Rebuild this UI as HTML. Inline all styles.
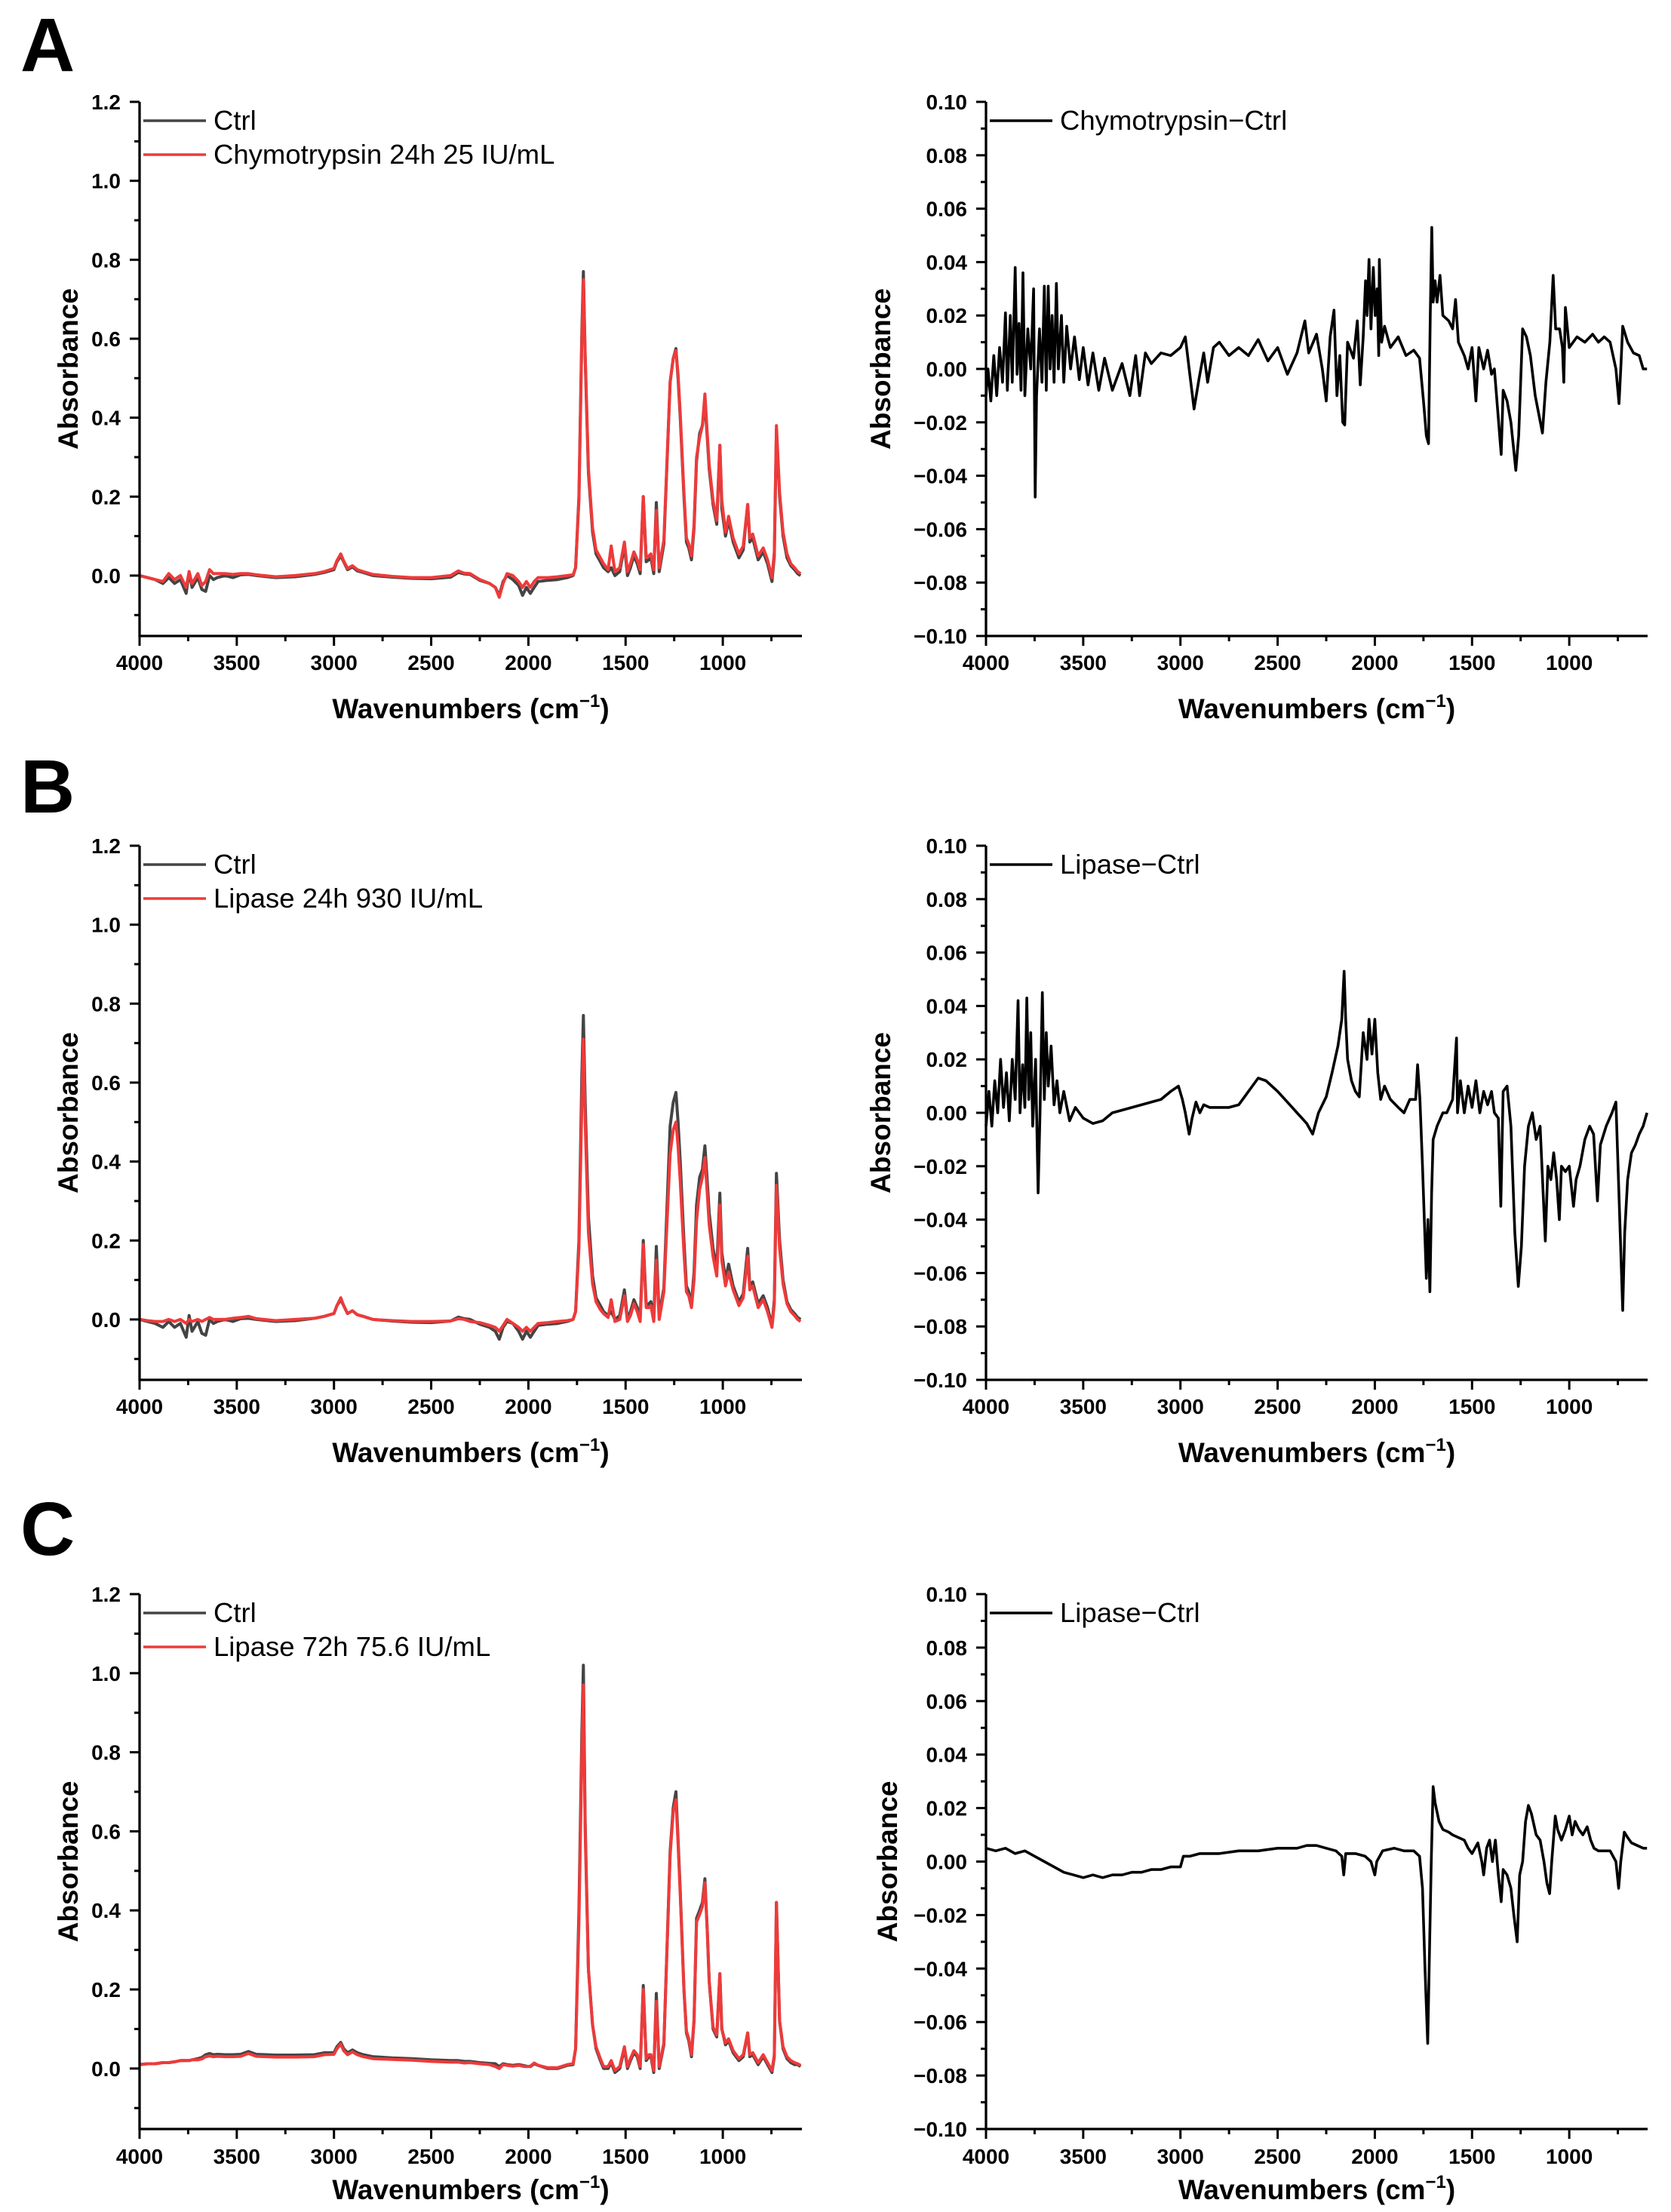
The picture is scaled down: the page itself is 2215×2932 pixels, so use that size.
<!DOCTYPE html>
<html>
<head>
<meta charset="utf-8">
<style>
  html, body { margin:0; padding:0; background:#fff; }
  svg { display:block; }
  text { font-family: "Liberation Sans", Arial, sans-serif; }
</style>
</head>
<body>
<svg id="fig" xmlns="http://www.w3.org/2000/svg" width="2215" height="2932" viewBox="0 0 2215 2932">
  <rect x="0" y="0" width="2215" height="2932" fill="#fff"/>
</svg>
<script>
// ---------- data: left panels (absorbance spectra) ----------
const wnL = [
 4000,3960,3920,3880,3850,3820,3790,3760,3745,3730,
 3700,3680,3660,3640,3620,3600,3560,3520,3480,3440,
 3400,3300,3200,3100,3050,3000,2985,2965,2950,2930,
 2905,2880,2850,2800,2700,2600,2500,2400,2360,2330,
 2300,2250,2200,2170,2150,2130,2110,2080,2050,2030,
 2010,1990,1970,1950,1900,1850,1800,1770,1757,1740,
 1725,1717,1708,1691,1670,1652,1630,1613,1590,1574,
 1555,1530,1506,1490,1475,1457,1440,1425,1409,1394,
 1380,1370,1355,1342,1327,1303,1271,1255,1241,1230,
 1219,1200,1187,1175,1161,1148,1135,1119,1105,1092,
 1080,1070,1050,1031,1015,1005,986,970,947,917,
 895,872,861,846,818,792,770,747,735,724,
 708,690,670,650,631,615,600];

const ctrlA = [
 0,-0.005,-0.01,-0.02,-0.005,-0.02,-0.01,-0.045,0.01,-0.03,
 -0.005,-0.035,-0.04,0.0,-0.01,-0.005,0,-0.005,0.002,0.003,
 0,-0.005,-0.003,0.003,0.008,0.015,0.035,0.05,0.035,0.015,
 0.022,0.012,0.008,0.0,-0.004,-0.007,-0.008,-0.004,0.008,0.004,
 0.003,-0.012,-0.02,-0.03,-0.05,-0.015,0.0,-0.01,-0.025,-0.05,
 -0.03,-0.045,-0.03,-0.015,-0.012,-0.01,-0.005,0.0,0.02,0.2,
 0.62,0.77,0.55,0.26,0.11,0.055,0.035,0.02,0.01,0.02,
 0.0,0.01,0.075,0.0,0.02,0.05,0.03,0.005,0.2,0.035,
 0.04,0.045,0.005,0.185,0.01,0.08,0.49,0.55,0.575,0.5,
 0.4,0.2,0.085,0.07,0.04,0.12,0.29,0.36,0.38,0.44,
 0.35,0.27,0.18,0.13,0.33,0.17,0.1,0.14,0.085,0.045,
 0.065,0.18,0.085,0.095,0.04,0.06,0.03,-0.015,0.05,0.37,
 0.2,0.1,0.045,0.025,0.015,0.005,0.0];

const chymoA = [
 0,-0.005,-0.01,-0.015,0.005,-0.01,0.0,-0.03,0.01,-0.02,
 0.005,-0.025,-0.015,0.015,0.005,0.005,0.005,0.003,0.005,0.005,
 0.002,-0.003,0,0.005,0.01,0.018,0.038,0.055,0.037,0.018,
 0.025,0.015,0.01,0.003,-0.002,-0.005,-0.005,0.0,0.012,0.006,
 0.005,-0.01,-0.02,-0.03,-0.055,-0.02,0.005,0.0,-0.015,-0.03,
 -0.015,-0.03,-0.015,-0.005,-0.005,-0.003,0.0,0.002,0.02,0.19,
 0.6,0.75,0.56,0.27,0.12,0.065,0.045,0.03,0.015,0.075,
 0.01,0.02,0.085,0.01,0.03,0.06,0.04,0.015,0.2,0.045,
 0.05,0.055,0.015,0.165,0.02,0.09,0.49,0.55,0.57,0.51,
 0.41,0.21,0.095,0.08,0.05,0.13,0.3,0.35,0.38,0.46,
 0.36,0.28,0.19,0.14,0.33,0.19,0.11,0.15,0.095,0.055,
 0.075,0.18,0.095,0.105,0.05,0.07,0.04,-0.005,0.06,0.38,
 0.21,0.11,0.055,0.03,0.02,0.01,0.005];

const ctrlB = [
 0,-0.005,-0.01,-0.02,-0.005,-0.02,-0.01,-0.045,0.01,-0.03,
 -0.005,-0.035,-0.04,0.0,-0.01,-0.005,0,-0.005,0.002,0.003,
 0,-0.005,-0.003,0.003,0.008,0.015,0.035,0.05,0.035,0.015,
 0.022,0.012,0.008,0.0,-0.004,-0.007,-0.008,-0.004,0.006,0.002,
 0.0,-0.012,-0.02,-0.03,-0.05,-0.02,-0.005,-0.01,-0.03,-0.05,
 -0.03,-0.045,-0.03,-0.015,-0.012,-0.01,-0.005,0.0,0.02,0.2,
 0.62,0.77,0.55,0.26,0.11,0.055,0.035,0.02,0.01,0.02,
 0.0,0.01,0.075,0.0,0.02,0.05,0.03,0.005,0.2,0.035,
 0.04,0.045,0.005,0.185,0.01,0.08,0.49,0.55,0.575,0.5,
 0.4,0.2,0.085,0.07,0.04,0.12,0.29,0.36,0.38,0.44,
 0.35,0.27,0.18,0.13,0.32,0.17,0.1,0.14,0.085,0.045,
 0.065,0.18,0.085,0.095,0.04,0.06,0.03,-0.015,0.05,0.37,
 0.2,0.1,0.045,0.025,0.015,0.005,0.0];

const lipaseB = [
 0,-0.003,-0.005,-0.005,0.0,-0.005,0.0,-0.01,0.0,-0.005,
 0.0,-0.005,0.0,0.005,0.0,0.0,0.0,0.003,0.005,0.008,
 0.002,-0.003,0.0,0.003,0.008,0.015,0.035,0.055,0.035,0.015,
 0.022,0.012,0.008,0.0,-0.003,-0.005,-0.005,-0.004,0.002,0.0,
 -0.005,-0.008,-0.015,-0.02,-0.03,-0.015,0.0,-0.01,-0.02,-0.03,
 -0.02,-0.03,-0.02,-0.01,-0.008,-0.005,-0.003,0.0,0.02,0.18,
 0.55,0.71,0.5,0.22,0.09,0.045,0.025,0.015,0.005,0.05,
 -0.005,0.0,0.06,-0.005,0.01,0.04,0.02,-0.005,0.19,0.03,
 0.03,0.035,-0.005,0.15,0.0,0.07,0.42,0.48,0.5,0.44,
 0.35,0.17,0.07,0.06,0.03,0.1,0.25,0.33,0.36,0.41,
 0.32,0.24,0.16,0.11,0.29,0.15,0.085,0.12,0.075,0.035,
 0.055,0.16,0.075,0.085,0.03,0.05,0.02,-0.02,0.04,0.34,
 0.18,0.09,0.04,0.02,0.01,0.0,-0.005];

const ctrlC = [
 0.01,0.012,0.012,0.015,0.015,0.017,0.02,0.02,0.02,0.022,
 0.025,0.028,0.035,0.038,0.035,0.036,0.035,0.035,0.036,0.043,
 0.036,0.034,0.034,0.035,0.04,0.04,0.055,0.066,0.05,0.04,
 0.047,0.04,0.035,0.03,0.027,0.025,0.022,0.02,0.02,0.018,
 0.018,0.015,0.013,0.012,0.005,0.012,0.01,0.008,0.01,0.008,
 0.006,0.005,0.012,0.008,0.0,0.0,0.008,0.01,0.05,0.4,
 0.85,1.02,0.62,0.25,0.11,0.05,0.02,0.0,0.0,0.015,
 -0.01,0.0,0.05,0.0,0.02,0.04,0.03,0.0,0.21,0.02,
 0.03,0.03,-0.01,0.19,0.0,0.06,0.55,0.66,0.7,0.58,
 0.45,0.2,0.09,0.07,0.03,0.12,0.38,0.4,0.42,0.48,
 0.35,0.22,0.1,0.08,0.24,0.1,0.06,0.07,0.04,0.02,
 0.03,0.09,0.03,0.035,0.01,0.03,0.01,-0.01,0.03,0.42,
 0.12,0.05,0.025,0.015,0.01,0.01,0.005];

const lipaseC = [
 0.01,0.012,0.012,0.015,0.015,0.017,0.02,0.02,0.02,0.022,
 0.022,0.024,0.03,0.032,0.03,0.031,0.03,0.03,0.031,0.038,
 0.031,0.029,0.029,0.03,0.035,0.036,0.05,0.062,0.045,0.035,
 0.042,0.035,0.03,0.025,0.023,0.021,0.018,0.016,0.016,0.014,
 0.015,0.012,0.01,0.005,0.0,0.01,0.008,0.006,0.008,0.006,
 0.005,0.006,0.014,0.008,0.002,0.002,0.01,0.012,0.05,0.37,
 0.8,0.97,0.6,0.25,0.11,0.055,0.025,0.005,0.005,0.02,
 -0.005,0.005,0.055,0.005,0.025,0.045,0.035,0.005,0.2,0.025,
 0.035,0.035,-0.005,0.17,0.005,0.065,0.54,0.65,0.68,0.57,
 0.44,0.2,0.095,0.075,0.035,0.125,0.37,0.39,0.41,0.47,
 0.35,0.22,0.105,0.085,0.24,0.1,0.065,0.075,0.045,0.025,
 0.035,0.09,0.035,0.04,0.015,0.035,0.015,-0.005,0.035,0.42,
 0.12,0.055,0.03,0.02,0.015,0.012,0.008];

// ---------- data: right panels (difference spectra) ----------
const wnRA = [
 4000,3990,3975,3960,3945,3930,3915,3900,3890,3875,
 3865,3850,3840,3830,3820,3810,3800,3785,3770,3755,
 3747,3740,3725,3712,3700,3690,3680,3670,3660,3650,
 3638,3628,3612,3600,3585,3565,3545,3520,3500,3475,
 3450,3420,3390,3350,3300,3260,3230,3210,3180,3150,
 3100,3050,3000,2975,2955,2930,2905,2880,2860,2830,
 2800,2750,2700,2650,2600,2550,2500,2450,2400,2360,
 2340,2300,2270,2250,2230,2210,2195,2180,2165,2155,
 2140,2110,2090,2075,2060,2048,2040,2030,2020,2008,
 1998,1988,1980,1977,1965,1950,1920,1880,1840,1800,
 1770,1750,1735,1724,1715,1707,1700,1690,1680,1665,
 1650,1620,1600,1585,1570,1540,1520,1500,1480,1465,
 1440,1420,1400,1385,1350,1340,1320,1300,1275,1260,
 1240,1220,1200,1175,1138,1120,1100,1083,1070,1050,
 1035,1028,1020,1000,960,920,880,850,820,790,
 760,744,735,725,700,670,640,620,600];
const diffA = [
 -0.01,0.0,-0.012,0.005,-0.01,0.008,-0.005,0.021,-0.008,0.02,
 -0.005,0.038,-0.002,0.017,-0.008,0.036,-0.01,0.015,0.0,0.03,
 -0.048,-0.01,0.015,-0.005,0.031,-0.008,0.031,0.0,0.02,-0.005,
 0.032,0.0,0.02,-0.005,0.016,0.0,0.012,-0.004,0.008,-0.006,
 0.006,-0.008,0.004,-0.008,0.002,-0.01,0.005,-0.01,0.006,0.002,
 0.006,0.005,0.008,0.012,0.0,-0.015,-0.004,0.006,-0.005,0.008,
 0.01,0.005,0.008,0.005,0.011,0.003,0.008,-0.002,0.006,0.018,
 0.006,0.013,0.0,-0.012,0.012,0.022,-0.01,0.005,-0.02,-0.021,
 0.01,0.004,0.018,-0.006,0.012,0.033,0.02,0.041,0.015,0.038,
 0.02,0.03,0.005,0.041,0.01,0.016,0.008,0.012,0.005,0.007,
 0.004,-0.012,-0.025,-0.028,0.02,0.053,0.025,0.033,0.025,0.035,
 0.02,0.018,0.015,0.026,0.01,0.005,0.0,0.008,-0.012,0.008,
 0.0,0.007,-0.002,0.0,-0.032,-0.008,-0.012,-0.02,-0.038,-0.025,
 0.015,0.012,0.005,-0.01,-0.024,-0.005,0.01,0.035,0.015,0.015,
 0.008,-0.005,0.023,0.008,0.012,0.01,0.013,0.01,0.012,0.01,
 0.0,-0.013,0.0,0.016,0.01,0.006,0.005,0.0,0.0];

const wnRB = [
 4000,3985,3970,3955,3940,3925,3910,3895,3880,3865,
 3850,3835,3825,3812,3800,3790,3780,3770,3760,3745,
 3732,3722,3710,3700,3690,3680,3665,3650,3635,3620,
 3600,3570,3540,3500,3450,3400,3350,3300,3200,3100,
 3050,3010,2990,2975,2955,2940,2920,2900,2880,2850,
 2800,2750,2700,2650,2600,2560,2500,2450,2400,2350,
 2320,2290,2250,2220,2190,2170,2158,2150,2140,2120,
 2100,2080,2060,2040,2030,2015,2000,1985,1970,1950,
 1920,1880,1850,1820,1790,1780,1768,1755,1735,1727,
 1717,1708,1700,1680,1650,1630,1600,1580,1575,1560,
 1540,1520,1500,1480,1460,1440,1420,1400,1385,1365,
 1352,1340,1320,1300,1280,1262,1246,1230,1210,1190,
 1170,1150,1123,1110,1095,1080,1065,1051,1040,1020,
 1000,978,965,945,920,895,875,855,840,810,
 780,760,740,725,715,700,680,660,640,620,
 600];
const diffB = [
 -0.005,0.008,-0.005,0.012,0.0,0.02,0.002,0.015,-0.003,0.02,
 0.005,0.042,0.0,0.018,0.002,0.043,0.005,0.03,-0.005,0.02,
 -0.03,0.0,0.045,0.005,0.03,0.01,0.025,0.003,0.012,0.0,
 0.008,-0.003,0.002,-0.002,-0.004,-0.003,0.0,0.001,0.003,0.005,
 0.008,0.01,0.005,0.0,-0.008,-0.002,0.004,0.0,0.003,0.002,
 0.002,0.002,0.003,0.008,0.013,0.012,0.008,0.004,0.0,-0.004,
 -0.008,0.0,0.006,0.015,0.025,0.035,0.053,0.035,0.02,0.012,
 0.008,0.006,0.03,0.02,0.035,0.022,0.035,0.015,0.005,0.01,
 0.005,0.002,0.0,0.005,0.005,0.018,0.005,-0.02,-0.062,-0.04,
 -0.067,-0.03,-0.01,-0.005,0.0,0.0,0.005,0.028,0.0,0.012,
 0.0,0.01,0.002,0.012,0.0,0.008,0.003,0.008,0.0,-0.002,
 -0.035,0.008,0.01,-0.005,-0.045,-0.065,-0.05,-0.02,-0.005,0.0,
 -0.01,-0.005,-0.048,-0.02,-0.025,-0.015,-0.025,-0.04,-0.02,-0.022,
 -0.02,-0.035,-0.025,-0.02,-0.01,-0.005,-0.008,-0.033,-0.012,-0.005,
 0.0,0.004,-0.04,-0.074,-0.045,-0.025,-0.015,-0.012,-0.008,-0.005,
 0.0];

const wnRC = [
 4000,3950,3900,3850,3800,3750,3700,3650,3600,3550,
 3500,3450,3400,3350,3300,3250,3200,3150,3100,3050,
 3000,2985,2950,2900,2800,2700,2600,2500,2400,2350,
 2300,2250,2200,2170,2160,2150,2100,2050,2020,2000,
 1990,1960,1900,1850,1800,1770,1755,1742,1728,1718,
 1710,1700,1690,1670,1650,1620,1600,1570,1540,1520,
 1500,1470,1450,1440,1425,1410,1395,1380,1365,1350,
 1340,1320,1300,1285,1268,1255,1240,1225,1210,1195,
 1170,1150,1130,1115,1101,1090,1072,1060,1040,1020,
 1000,985,970,950,930,908,890,873,850,820,
 790,760,746,735,717,700,680,650,620,600];
const diffC = [
 0.005,0.004,0.005,0.003,0.004,0.002,0.0,-0.002,-0.004,-0.005,
 -0.006,-0.005,-0.006,-0.005,-0.005,-0.004,-0.004,-0.003,-0.003,-0.002,
 -0.002,0.002,0.002,0.003,0.003,0.004,0.004,0.005,0.005,0.006,
 0.006,0.005,0.004,0.002,-0.005,0.003,0.003,0.002,0.0,-0.005,
 0.0,0.004,0.005,0.004,0.004,0.002,-0.01,-0.04,-0.068,-0.03,
 0.0,0.028,0.022,0.015,0.012,0.011,0.01,0.009,0.008,0.005,
 0.003,0.007,0.0,-0.005,0.005,0.008,0.0,0.008,-0.005,-0.015,
 -0.003,-0.005,-0.01,-0.02,-0.03,-0.005,0.0,0.015,0.021,0.018,
 0.01,0.008,0.0,-0.008,-0.012,0.0,0.017,0.012,0.008,0.012,
 0.017,0.01,0.015,0.012,0.01,0.013,0.008,0.005,0.004,0.004,
 0.004,0.0,-0.01,0.0,0.011,0.009,0.007,0.006,0.005,0.005];

// ---------- tick definitions ----------
const xMajorTicks = [4000,3500,3000,2500,2000,1500,1000];
const xMinorTicks = [3750,3250,2750,2250,1750,1250,750];
const yMajorLeft = [0,0.2,0.4,0.6,0.8,1.0,1.2];
const yMinorLeft = [-0.1,0.1,0.3,0.5,0.7,0.9,1.1];
const yMajorRight = [-0.10,-0.08,-0.06,-0.04,-0.02,0,0.02,0.04,0.06,0.08,0.10];
const yMinorRight = [-0.09,-0.07,-0.05,-0.03,-0.01,0.01,0.03,0.05,0.07,0.09];

// ---------- drawing ----------
const NS = 'http://www.w3.org/2000/svg';
const svg = document.getElementById('fig');
function mk(tag, attrs, parent) {
  const e = document.createElementNS(NS, tag);
  for (const k in attrs) e.setAttribute(k, attrs[k]);
  (parent || svg).appendChild(e);
  return e;
}
function fmtRight(v) {
  const s = Math.abs(v).toFixed(2);
  return (v < -1e-9 ? '\u2212' : '') + s;
}

function drawPanel(p) {
  const g = mk('g', {});
  
  
  const sx = w => p.x0 + (p.wnMax - w) / (p.wnMax - p.wnMin) * (p.x1 - p.x0);
  const sy = v => p.yBot - (v - p.vMin) / (p.vMax - p.vMin) * (p.yBot - p.yTop);

  p.series.forEach(s => {
    let d = '';
    for (let i = 0; i < s.wn.length; i++) {
      d += (i ? 'L' : 'M') + sx(s.wn[i]).toFixed(1) + ',' + sy(s.vals[i]).toFixed(1);
    }
    const path = mk('path', {d: d, fill: 'none', stroke: s.color, 'stroke-width': s.width, 'stroke-linejoin': 'round'}, g);
    
    
  });

  const yAxis = mk('line', {x1: p.x0, y1: p.yTop, x2: p.x0, y2: p.yBot + 1.5, stroke: '#000', 'stroke-width': 3.3}, g);
  
  
  const xAxis = mk('line', {x1: p.x0 - 1.5, y1: p.yBot, x2: p.x1, y2: p.yBot, stroke: '#000', 'stroke-width': 3.3}, g);
  
  

  xMajorTicks.forEach(w => {
    const x = sx(w);
    const t = mk('line', {x1: x, y1: p.yBot, x2: x, y2: p.yBot + 13, stroke: '#000', 'stroke-width': 3}, g);
    
    
    const lb = mk('text', {x: x, y: p.yBot + p.tickOff, 'text-anchor': 'middle', 'font-size': 28, 'font-weight': 'bold'}, g);
    lb.textContent = String(w);
    
    
  });
  xMinorTicks.forEach(w => {
    const x = sx(w);
    const t = mk('line', {x1: x, y1: p.yBot, x2: x, y2: p.yBot + 7, stroke: '#000', 'stroke-width': 3}, g);
    
    
  });
  p.yMajor.forEach(v => {
    const y = sy(v);
    const t = mk('line', {x1: p.x0 - 13, y1: y, x2: p.x0, y2: y, stroke: '#000', 'stroke-width': 3}, g);
    
    
    const lb = mk('text', {x: p.x0 - 25, y: y + 10, 'text-anchor': 'end', 'font-size': 28, 'font-weight': 'bold'}, g);
    lb.textContent = p.fmt(v);
    
    
  });
  p.yMinor.forEach(v => {
    const y = sy(v);
    const t = mk('line', {x1: p.x0 - 7, y1: y, x2: p.x0, y2: y, stroke: '#000', 'stroke-width': 3}, g);
    
    
  });

  const xt = mk('text', {x: (p.x0 + p.x1) / 2, y: p.yBot + p.titleOff, 'text-anchor': 'middle', 'font-size': 37, 'font-weight': 'bold'}, g);
  
  
  xt.appendChild(document.createTextNode('Wavenumbers (cm'));
  const sup = mk('tspan', {'font-size': 24, dy: -15}, xt);
  sup.textContent = '\u22121';
  const close = mk('tspan', {dy: 15}, xt);
  close.textContent = ')';

  const ym = (p.yTop + p.yBot) / 2;
  const yt = mk('text', {x: p.ytX, y: ym, 'text-anchor': 'middle', 'font-size': 37, 'font-weight': 'bold', transform: 'rotate(-90 ' + p.ytX + ' ' + ym + ')'}, g);
  yt.textContent = 'Absorbance';
  
  

  p.legend.forEach((L, i) => {
    const ly = p.yTop + 25 + i * 45;
    const ln = mk('line', {x1: p.x0 + 5, y1: ly, x2: p.x0 + 88, y2: ly, stroke: L.color, 'stroke-width': 3.5}, g);
    
    
    const tx = mk('text', {x: p.x0 + 98, y: ly + 12, 'font-size': 36.5}, g);
    tx.textContent = L.text;
    
    
  });
}

const GREY = '#444444', RED = '#ee3a3a';
const fmtL = v => v.toFixed(1);
const rows = [
  {tag: 'a', yTop: 135, yBot: 843, tickOff: 45, titleOff: 109, ytR: 1180,
   left: [{name: 'ctrl-line', wn: wnL, vals: ctrlA, color: GREY}, {name: 'chymotrypsin-line', wn: wnL, vals: chymoA, color: RED}],
   leg: [{text: 'Ctrl', color: GREY}, {text: 'Chymotrypsin 24h 25 IU/mL', color: RED}],
   right: {wn: wnRA, vals: diffA, label: 'Chymotrypsin\u2212Ctrl'}},
  {tag: 'b', yTop: 1121, yBot: 1829, tickOff: 45, titleOff: 109, ytR: 1180,
   left: [{name: 'ctrl-line', wn: wnL, vals: ctrlB, color: GREY}, {name: 'lipase-line', wn: wnL, vals: lipaseB, color: RED}],
   leg: [{text: 'Ctrl', color: GREY}, {text: 'Lipase 24h 930 IU/mL', color: RED}],
   right: {wn: wnRB, vals: diffB, label: 'Lipase\u2212Ctrl'}},
  {tag: 'c', yTop: 2113, yBot: 2822, tickOff: 46, titleOff: 93, ytR: 1189,
   left: [{name: 'ctrl-line', wn: wnL, vals: ctrlC, color: GREY}, {name: 'lipase-line', wn: wnL, vals: lipaseC, color: RED}],
   leg: [{text: 'Ctrl', color: GREY}, {text: 'Lipase 72h 75.6 IU/mL', color: RED}],
   right: {wn: wnRC, vals: diffC, label: 'Lipase\u2212Ctrl'}}
];

rows.forEach(r => {
  drawPanel({name: 'panel-' + r.tag + '-spectra', x0: 185, x1: 1063, yTop: r.yTop, yBot: r.yBot,
    wnMax: 4000, wnMin: 593, vMin: -0.153, vMax: 1.2, yMajor: yMajorLeft, yMinor: yMinorLeft, fmt: fmtL,
    tickOff: r.tickOff, titleOff: r.titleOff, ytX: 103,
    series: r.left.map(s => ({name: s.name, wn: s.wn, vals: s.vals, color: s.color, width: 4})),
    legend: r.leg});
  drawPanel({name: 'panel-' + r.tag + '-difference', x0: 1307, x1: 2184, yTop: r.yTop, yBot: r.yBot,
    wnMax: 4000, wnMin: 597, vMin: -0.1, vMax: 0.1, yMajor: yMajorRight, yMinor: yMinorRight, fmt: fmtRight,
    tickOff: r.tickOff, titleOff: r.titleOff, ytX: r.ytR,
    series: [{name: 'difference-line', wn: r.right.wn, vals: r.right.vals, color: '#000', width: 3.6}],
    legend: [{text: r.right.label, color: '#000'}]});
});

const letters = [['A', 94], ['B', 1077], ['C', 2061]];
letters.forEach(([ch, y]) => {
  const t = mk('text', {x: 27, y: y, 'font-size': 100, 'font-weight': 'bold'});
  t.textContent = ch;
  
  
});
</script>
</body>
</html>
